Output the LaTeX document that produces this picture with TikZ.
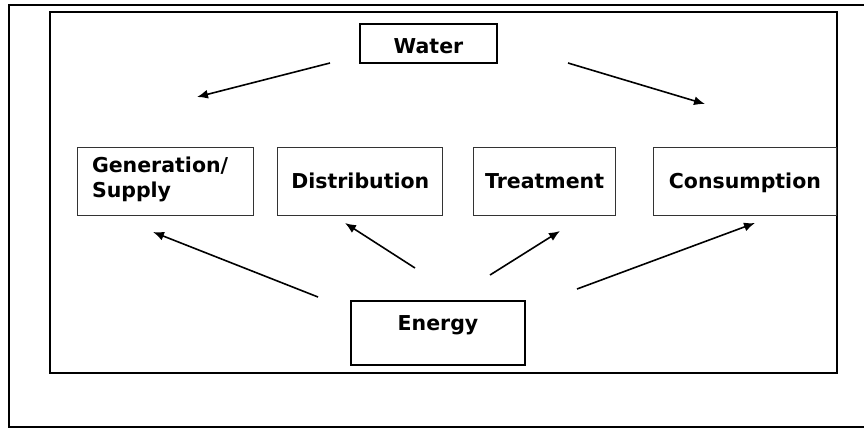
\documentclass[tikz,border=0pt]{standalone}
\usepackage{fontspec}
\setmainfont{DejaVu Sans}
\usetikzlibrary{arrows.meta, positioning}

\begin{document}
\begin{tikzpicture}
  [
  x = 1bp, y = -1bp,
  font = \fontsize{20.5bp}{25bp}\selectfont\bfseries,
  block/.style = {rectangle, draw = black!80, line width = 0.8bp,
    inner sep = 0pt, text height = 41bp, text depth = 27bp},
  % kotak utama
  utama/.style = {rectangle, draw, line width = 2bp, inner sep = 0pt},
  % line
  line/.style = {draw, line width = 1.6bp, -{Latex[length=11bp, width=9bp]}},
  ]
  \useasboundingbox (0,0) rectangle (864,429);

  % frames
  \draw [line width = 1.5bp] (864,5) -- (9,5) -- (9,427) -- (864,427);
  \draw [line width = 2bp] (50,12) rectangle (837,373);

  % nodes
  \node [utama, minimum width = 137bp, text height = 29bp, text depth = 10bp]
    (water) at (428.5,43.5) {Water};
  \node [block, text width = 146bp, inner xsep = 15bp, align = left,
    text height = 25bp, text depth = 43bp] (gen) at (165,181) {Generation/\\Supply};
  \node [block, minimum width = 165bp, right = 24bp of gen] (dist) {Distribution};
  \node [block, minimum width = 142bp, right = 30bp of dist] (treat) {Treatment};
  \node [block, minimum width = 183bp, right = 37bp of treat] (cons) {Consumption};
  \node [utama, minimum width = 174bp, text height = 29bp, text depth = 35bp]
    (energy) at (438,333) {Energy};

  % arrow ends
  \coordinate (w-l) at (330,63);   \coordinate (w-l-tip) at (197,97);
  \coordinate (w-r) at (568,63);   \coordinate (w-r-tip) at (705,104);
  \coordinate (e-gen) at (318,297);  \coordinate (gen-in) at (153,232);
  \coordinate (e-dist) at (415,268); \coordinate (dist-in) at (345,223);
  \coordinate (e-treat) at (490,275); \coordinate (treat-in) at (560,231);
  \coordinate (e-cons) at (577,289);  \coordinate (cons-in) at (755,223);

  % path
  \path [line] (w-l) -- (w-l-tip);
  \path [line] (w-r) -- (w-r-tip);
  \path [line] (e-gen) -- (gen-in);
  \path [line] (e-dist) -- (dist-in);
  \path [line] (e-treat) -- (treat-in);
  \path [line] (e-cons) -- (cons-in);

\end{tikzpicture}
\end{document}
